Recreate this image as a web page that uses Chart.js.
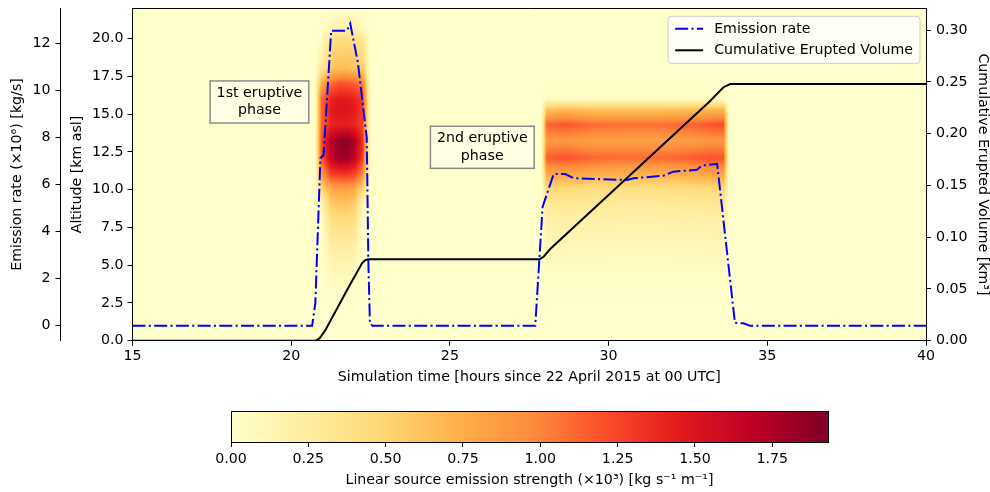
<!DOCTYPE html>
<html>
<head>
<meta charset="utf-8">
<script src="https://cdn.jsdelivr.net/npm/chart.js@4.4.0/dist/chart.umd.min.js"></script>
<style>
html, body { margin: 0; padding: 0; background: #fff; }
#wrap { position: relative; width: 990px; height: 492px; }
#main { position: absolute; left: 0; top: 0; }
#cbar { position: absolute; left: 0; top: 389px; }
</style>
</head>
<body>
<div id="wrap">
  <canvas id="main" width="990" height="389"></canvas>
  <canvas id="cbar" width="990" height="103"></canvas>
</div>
<script>
// ticks
const timeTicks = [15, 20, 25, 30, 35, 40];
const altTicks = [0, 2.5, 5, 7.5, 10, 12.5, 15, 17.5, 20];
const emisTicks = [0, 2, 4, 6, 8, 10, 12];
const volTicks = [0, 0.05, 0.10, 0.15, 0.20, 0.25, 0.30];
const cbTicks = [0, 0.25, 0.5, 0.75, 1.0, 1.25, 1.5, 1.75];
const cbMax = 1.93;

// emission rate (x10^6 kg/s)
const emisTimes = [15, 20.66, 20.76, 20.92, 21.02, 21.26, 21.76, 21.86, 22.1, 22.38, 22.43, 22.48, 22.56,
  27.69, 27.92, 28.27, 28.63, 28.9, 29.74, 30.58, 30.79, 31.73, 32.04, 32.78, 32.94, 33.42, 33.98, 34.25, 34.45, 40];
const emisVals = [0, 0, 0.95, 7.12, 7.26, 12.55, 12.55, 12.85, 11.2, 8.0, 2.8, 0.1, 0,
  0, 5.05, 6.45, 6.45, 6.27, 6.23, 6.2, 6.27, 6.38, 6.55, 6.63, 6.81, 6.88, 0.12, 0.1, 0, 0];

// cumulative erupted volume (km3)
const volTimes = [15, 20.78, 20.9, 21.08, 21.76, 22.23, 22.32, 22.42, 27.82, 27.95, 28.16, 33.2, 33.45, 33.62, 33.83, 34.0, 40];
const volVals = [0, 0, 0.0025, 0.0103, 0.049, 0.0747, 0.0775, 0.0786, 0.0786, 0.081, 0.0885, 0.2315, 0.2395, 0.2448, 0.2478, 0.248, 0.248];

// emission strength grid (x10^3 kg s-1 m-1), rows = altitude (top first), cols = time
const heatTimes = [20.75, 20.95, 21.25, 21.5, 21.75, 22.0, 22.25, 22.5,
  27.88, 28.05, 28.6, 29.5, 30.5, 31.5, 32.5, 33.2, 33.62, 33.8];
const heatAlts = [22, 20.6, 20, 19, 18, 17, 16, 15.3, 14.3, 13.2, 12.1, 11, 10, 9, 8, 7, 6, 5, 4, 2.5, 0];
const heatGrid = [
  [0, 0, 0, 0, 0, 0, 0, 0,             0, 0, 0, 0, 0, 0, 0, 0, 0, 0],
  [0, 0, 0.15, 0.2, 0.2, 0.2, 0.1, 0,  0, 0, 0, 0, 0, 0, 0, 0, 0, 0],
  [0, 0.05, 0.35, 0.42, 0.42, 0.4, 0.3, 0,  0, 0, 0, 0, 0, 0, 0, 0, 0, 0],
  [0, 0.15, 0.5, 0.55, 0.55, 0.55, 0.45, 0, 0, 0, 0, 0, 0, 0, 0, 0, 0, 0],
  [0, 0.3, 0.6, 0.65, 0.65, 0.62, 0.55, 0,  0, 0, 0, 0, 0, 0, 0, 0, 0, 0],
  [0, 0.75, 1.1, 1.2, 1.2, 1.15, 1.0, 0,    0, 0, 0, 0, 0, 0, 0, 0, 0, 0],
  [0, 1.1, 1.4, 1.45, 1.45, 1.4, 1.3, 0,    0, 0.06, 0.06, 0.05, 0.05, 0.05, 0.05, 0.06, 0.06, 0],
  [0, 1.1, 1.45, 1.5, 1.5, 1.45, 1.3, 0,    0, 0.62, 0.68, 0.62, 0.62, 0.62, 0.64, 0.68, 0.7, 0],
  [0, 1.1, 1.4, 1.42, 1.42, 1.38, 1.25, 0,  0, 1.12, 1.18, 1.1, 1.08, 1.08, 1.12, 1.18, 1.22, 0],
  [0, 1.2, 1.72, 1.85, 1.9, 1.75, 1.35, 0,  0, 0.88, 0.9, 0.85, 0.84, 0.84, 0.86, 0.9, 0.9, 0],
  [0, 1.15, 1.65, 1.8, 1.8, 1.65, 1.3, 0,   0, 1.15, 1.2, 1.12, 1.1, 1.1, 1.15, 1.2, 1.18, 0],
  [0, 0.85, 1.25, 1.3, 1.3, 1.25, 0.95, 0,  0, 0.78, 0.8, 0.75, 0.72, 0.72, 0.75, 0.8, 0.8, 0],
  [0, 0.4, 0.78, 0.82, 0.82, 0.78, 0.45, 0, 0, 0.45, 0.46, 0.42, 0.4, 0.4, 0.42, 0.45, 0.45, 0],
  [0, 0.12, 0.55, 0.6, 0.6, 0.55, 0.15, 0,  0, 0.28, 0.3, 0.28, 0.27, 0.27, 0.28, 0.3, 0.3, 0],
  [0, 0.03, 0.4, 0.45, 0.45, 0.4, 0.03, 0,  0, 0.2, 0.21, 0.2, 0.19, 0.19, 0.2, 0.21, 0.21, 0],
  [0, 0, 0.3, 0.32, 0.32, 0.3, 0, 0,        0, 0.14, 0.15, 0.14, 0.13, 0.13, 0.14, 0.15, 0.15, 0],
  [0, 0, 0.2, 0.22, 0.22, 0.2, 0, 0,        0, 0.1, 0.1, 0.09, 0.09, 0.09, 0.09, 0.1, 0.1, 0],
  [0, 0, 0.12, 0.14, 0.14, 0.12, 0, 0,      0, 0.06, 0.06, 0.06, 0.05, 0.05, 0.06, 0.06, 0.06, 0],
  [0, 0, 0.06, 0.07, 0.07, 0.06, 0, 0,      0, 0.03, 0.03, 0.03, 0.03, 0.03, 0.03, 0.03, 0.03, 0],
  [0, 0, 0, 0, 0, 0, 0, 0,                  0, 0, 0, 0, 0, 0, 0, 0, 0, 0],
  [0, 0, 0, 0, 0, 0, 0, 0,                  0, 0, 0, 0, 0, 0, 0, 0, 0, 0]
];

const noteTexts = ['1st eruptive\nphase', '2nd eruptive\nphase'];
const noteTimes = [19.0, 26.02];
const noteAlts = [15.8, 12.8];

const cmapColors = ['#ffffcc', '#ffeda0', '#fed976', '#feb24c', '#fd8d3c', '#fc4e2a', '#e31a1c', '#bd0026', '#800026'];

const FONT = '"DejaVu Sans"';
const FS = 14.2;
Chart.defaults.font.family = FONT;
Chart.defaults.font.size = FS;
Chart.defaults.color = '#000';

const cmapRgb = cmapColors.map(c => [parseInt(c.slice(1, 3), 16), parseInt(c.slice(3, 5), 16), parseInt(c.slice(5, 7), 16)]);
function cmap(v) {
  let f = Math.max(0, Math.min(1, v / cbMax)) * (cmapRgb.length - 1);
  let k = Math.min(Math.floor(f), cmapRgb.length - 2);
  let r = f - k;
  const a = cmapRgb[k], b = cmapRgb[k + 1];
  return [a[0] + (b[0] - a[0]) * r, a[1] + (b[1] - a[1]) * r, a[2] + (b[2] - a[2]) * r];
}
function bracket(arr, v) {
  for (let i = 0; i < arr.length - 1; i++) {
    const a = arr[i], b = arr[i + 1];
    if ((v - a) * (v - b) <= 0) return [i, (v - a) / (b - a)];
  }
  return null;
}

const heatPlugin = {
  id: 'heat',
  beforeDraw(chart) {
    const ctx = chart.ctx, a = chart.chartArea;
    const x = chart.scales.x, y = chart.scales.yA;
    const l = Math.floor(a.left), t = Math.floor(a.top);
    const w = Math.ceil(a.right) - l, h = Math.ceil(a.bottom) - t;
    const img = ctx.createImageData(w, h);
    const cols = [], rows = [];
    for (let i = 0; i < w; i++) cols.push(bracket(heatTimes, x.getValueForPixel(l + i + 0.5)));
    for (let j = 0; j < h; j++) rows.push(bracket(heatAlts, y.getValueForPixel(t + j + 0.5)));
    for (let j = 0; j < h; j++) {
      for (let i = 0; i < w; i++) {
        let v = 0;
        const c = cols[i], r = rows[j];
        if (c && r) {
          const g0 = heatGrid[r[0]], g1 = heatGrid[r[0] + 1];
          const top = g0[c[0]] + (g0[c[0] + 1] - g0[c[0]]) * c[1];
          const bot = g1[c[0]] + (g1[c[0] + 1] - g1[c[0]]) * c[1];
          v = top + (bot - top) * r[1];
        }
        const col = cmap(v);
        const p = (j * w + i) * 4;
        img.data[p] = col[0]; img.data[p + 1] = col[1]; img.data[p + 2] = col[2]; img.data[p + 3] = 255;
      }
    }
    ctx.putImageData(img, l, t);
  },
  afterDraw(chart) {
    const ctx = chart.ctx, a = chart.chartArea;
    const x = chart.scales.x, y = chart.scales.yA;
    ctx.save();
    // top spine
    ctx.strokeStyle = '#000'; ctx.lineWidth = 1;
    ctx.beginPath(); ctx.moveTo(a.left, Math.round(a.top) + 0.5); ctx.lineTo(a.right, Math.round(a.top) + 0.5); ctx.stroke();

    // text boxes
    ctx.font = FS + 'px ' + FONT;
    ctx.textAlign = 'center'; ctx.textBaseline = 'middle';
    for (let i = 0; i < noteTexts.length; i++) {
      const lines = noteTexts[i].split('\n');
      const cx = x.getPixelForValue(noteTimes[i]), cy = y.getPixelForValue(noteAlts[i]);
      const tw = Math.max(...lines.map(s => ctx.measureText(s).width));
      const lh = FS * 1.2;
      const bw = tw + 13, bh = lh * lines.length + 8;
      ctx.fillStyle = 'rgba(255,255,255,0.5)';
      ctx.fillRect(cx - bw / 2, cy - bh / 2, bw, bh);
      ctx.strokeStyle = 'rgba(128,128,128,0.9)'; ctx.lineWidth = 1.5;
      ctx.strokeRect(cx - bw / 2, cy - bh / 2, bw, bh);
      ctx.fillStyle = '#000';
      lines.forEach((s, k) => ctx.fillText(s, cx, cy + (k - (lines.length - 1) / 2) * lh));
    }

    // legend
    const ds = chart.data.datasets;
    ctx.textAlign = 'left';
    const tw = Math.max(...ds.map(d => ctx.measureText(d.label).width));
    const bw = tw + 53, bh = 47;
    const bx = a.right - 6 - bw, by = a.top + 8;
    ctx.beginPath();
    ctx.roundRect(bx, by, bw, bh, 3);
    ctx.fillStyle = 'rgba(255,255,255,0.8)'; ctx.fill();
    ctx.strokeStyle = '#cccccc'; ctx.lineWidth = 1; ctx.stroke();
    ds.forEach((d, k) => {
      const ly = by + 12.5 + k * 21.5;
      ctx.strokeStyle = d.borderColor; ctx.lineWidth = d.borderWidth;
      ctx.setLineDash(d.borderDash || []);
      ctx.beginPath(); ctx.moveTo(bx + 7, ly); ctx.lineTo(bx + 35, ly); ctx.stroke();
      ctx.setLineDash([]);
      ctx.fillStyle = '#000';
      ctx.fillText(d.label, bx + 46, ly + 0.5);
    });
    ctx.restore();
  }
};

function fixedTicks(list) {
  return s => { s.ticks = list.map(v => ({ value: v })); };
}
function sizeTo(dim, val) {
  return s => {
    s[dim] = val;
    s.paddingTop = 0; s.paddingBottom = 0; s.paddingLeft = 0; s.paddingRight = 0;
  };
}
const tickGrid = { drawOnChartArea: false, drawTicks: true, tickLength: 5, color: '#000', lineWidth: 1 };
const border = { display: true, color: '#000', width: 1 };

new Chart(document.getElementById('main'), {
  type: 'line',
  data: {
    datasets: [
      {
        label: 'Emission rate',
        data: emisTimes.map((t, i) => ({ x: t, y: emisVals[i] })),
        yAxisID: 'yE',
        borderColor: '#0000ff',
        borderWidth: 2,
        borderDash: [13, 3.3, 2.1, 3.3],
        pointRadius: 0,
        tension: 0,
        fill: false
      },
      {
        label: 'Cumulative Erupted Volume',
        data: volTimes.map((t, i) => ({ x: t, y: volVals[i] })),
        yAxisID: 'yV',
        borderColor: '#000000',
        borderWidth: 2,
        pointRadius: 0,
        tension: 0,
        fill: false
      }
    ]
  },
  options: {
    responsive: false,
    animation: false,
    devicePixelRatio: 1,
    layout: { padding: { top: 8.3, left: 0, right: 0, bottom: 0 } },
    plugins: { legend: { display: false }, tooltip: { enabled: false } },
    scales: {
      x: {
        type: 'linear', position: 'bottom', min: 15, max: 40,
        afterBuildTicks: fixedTicks(timeTicks),
        afterFit: sizeTo('height', 48.3),
        ticks: { callback: v => String(v), padding: 2, maxRotation: 0, autoSkip: false },
        grid: tickGrid, border: border,
        title: { display: true, text: 'Simulation time [hours since 22 April 2015 at 00 UTC]', padding: { top: 0, bottom: 3.5 } }
      },
      yA: {
        type: 'linear', position: 'left', weight: 0, min: 0, max: 22,
        afterBuildTicks: fixedTicks(altTicks),
        afterFit: sizeTo('width', 72),
        ticks: { callback: v => v.toFixed(1), padding: 4 },
        grid: tickGrid, border: border,
        title: { display: true, text: 'Altitude [km asl]', padding: { top: 8.0, bottom: 0 } }
      },
      yE: {
        type: 'linear', position: 'left', weight: 1, min: -0.64, max: 13.5,
        afterBuildTicks: fixedTicks(emisTicks),
        afterFit: sizeTo('width', 60.5),
        ticks: { callback: v => String(v), padding: 5 },
        grid: tickGrid, border: border,
        title: { display: true, text: 'Emission rate (×10⁶) [kg/s]', padding: { top: 9.0, bottom: 0 } }
      },
      yV: {
        type: 'linear', position: 'right', min: 0, max: 0.321,
        afterBuildTicks: fixedTicks(volTicks),
        afterFit: sizeTo('width', 64),
        ticks: { callback: v => v.toFixed(2), padding: 5 },
        grid: tickGrid, border: border,
        title: { display: true, text: 'Cumulative Erupted Volume [km³]', font: { lineHeight: 1 }, padding: { top: 0, bottom: 0 } }
      }
    }
  },
  plugins: [heatPlugin]
});

const cbarPlugin = {
  id: 'cbarFill',
  beforeDraw(chart) {
    const ctx = chart.ctx, a = chart.chartArea, x = chart.scales.x;
    const g = ctx.createLinearGradient(x.getPixelForValue(0), 0, x.getPixelForValue(cbMax), 0);
    cmapColors.forEach((c, k) => g.addColorStop(k / (cmapColors.length - 1), c));
    ctx.fillStyle = g;
    ctx.fillRect(a.left, a.top, a.right - a.left, a.bottom - a.top);
  },
  afterDraw(chart) {
    const ctx = chart.ctx, a = chart.chartArea;
    ctx.save();
    ctx.strokeStyle = '#000'; ctx.lineWidth = 1;
    ctx.strokeRect(Math.round(a.left) + 0.5, Math.round(a.top) + 0.5, Math.round(a.right - a.left), Math.round(a.bottom - a.top));
    ctx.restore();
  }
};

new Chart(document.getElementById('cbar'), {
  type: 'scatter',
  data: { datasets: [] },
  options: {
    responsive: false,
    animation: false,
    devicePixelRatio: 1,
    layout: { padding: { top: 22, left: 231, right: 162, bottom: 0 } },
    plugins: { legend: { display: false }, tooltip: { enabled: false } },
    scales: {
      x: {
        type: 'linear', position: 'bottom', min: 0, max: cbMax,
        afterBuildTicks: fixedTicks(cbTicks),
        afterFit: sizeTo('height', 50),
        ticks: { callback: v => v.toFixed(2), padding: 4, maxRotation: 0, autoSkip: false },
        grid: tickGrid, border: border,
        title: { display: true, text: 'Linear source emission strength (×10³) [kg s⁻¹ m⁻¹]', padding: { top: 0, bottom: 3.5 } }
      },
      y: { display: false, min: 0, max: 1 }
    }
  },
  plugins: [cbarPlugin]
});
</script>
</body>
</html>
